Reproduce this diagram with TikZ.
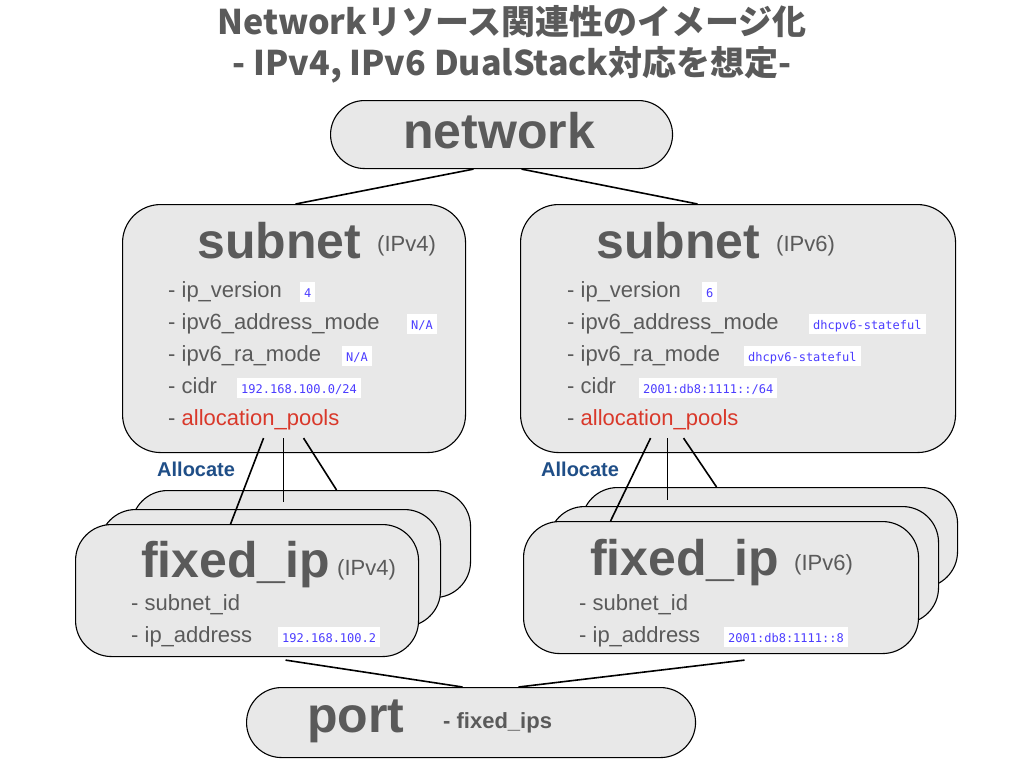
\documentclass[tikz,border=0pt]{standalone}
\usepackage{fontspec}
\setmainfont{Liberation Sans}
\setmonofont{DejaVu Sans Mono}
\newfontfamily\jpfont{Noto Sans CJK JP}
\usetikzlibrary{calc}
\definecolor{txt}{RGB}{90,90,90}
\definecolor{boxfill}{RGB}{232,232,232}
\definecolor{valblue}{RGB}{75,60,255}
\definecolor{alloc}{RGB}{31,78,135}
\definecolor{pool}{RGB}{217,56,42}
\tikzset{
  box/.style={draw=black, line width=1.1pt, fill=boxfill, rounded corners=#1, inner sep=0pt, anchor=north west},
  big/.style={font=\bfseries\fontsize{50}{50}\selectfont, text=txt, anchor=base west, inner sep=0pt},
  tag/.style={font=\fontsize{22}{22}\selectfont, text=txt, anchor=base west, inner sep=0pt},
  item/.style={font=\fontsize{22}{22}\selectfont, text=txt, anchor=base west, inner sep=0pt},
  val/.style={font=\ttfamily\fontsize{12}{12}\selectfont, text=valblue, fill=white, anchor=base west, inner xsep=4pt, inner ysep=2pt, text height=13pt, text depth=3pt},
  allocl/.style={font=\bfseries\fontsize{20}{20}\selectfont, text=alloc, anchor=base west, inner sep=0pt},
  ttl/.style={font=\jpfont\bfseries\fontsize{34}{34}\selectfont, text=txt, anchor=base, inner sep=0pt},
  link/.style={draw=black, line width=1.6pt}
}
\begin{document}
\begin{tikzpicture}[x=1pt,y=-1pt]
\useasboundingbox[fill=white] (0,0) rectangle (1024,768);
% title
\node[ttl] (t1) at (512,35) {Networkリソース関連性のイメージ化};
\node[ttl] (t2) at (512,75) {- IPv4, IPv6 DualStack対応を想定-};
% network
\node[box=34, minimum width=342pt, minimum height=68pt] (net) at (330,100) {};
\node[big] (netl) at (403,148) {network};
% subnet IPv4
\node[box=38, minimum width=343pt, minimum height=248pt] (s4) at (122,204) {};
\node[big] (s4l) at (197,258) {subnet};
\node[tag] (s4t) at (377,251) {(IPv4)};
\node[item] (s4a) at (168,297) {- ip\_version};
\node[item] (s4b) at (168,329) {- ipv6\_address\_mode};
\node[item] (s4c) at (168,361) {- ipv6\_ra\_mode};
\node[item] (s4d) at (168,393) {- cidr};
\node[item] (s4e) at (168,425) {- \textcolor{pool}{allocation\_pools}};
\node[val] (s4av) at (300,297) {4};
\node[val] (s4bv) at (407,329) {N/A};
\node[val] (s4cv) at (342,361) {N/A};
\node[val] (s4dv) at (237,393) {192.168.100.0/24};
% subnet IPv6
\node[box=38, minimum width=435pt, minimum height=248pt] (s6) at (520,204) {};
\node[big] (s6l) at (596,258) {subnet};
\node[tag] (s6t) at (776,251) {(IPv6)};
\node[item] (s6a) at (567,297) {- ip\_version};
\node[item] (s6b) at (567,329) {- ipv6\_address\_mode};
\node[item] (s6c) at (567,361) {- ipv6\_ra\_mode};
\node[item] (s6d) at (567,393) {- cidr};
\node[item] (s6e) at (567,425) {- \textcolor{pool}{allocation\_pools}};
\node[val] (s6av) at (702,297) {6};
\node[val] (s6bv) at (809,329) {dhcpv6-stateful};
\node[val] (s6cv) at (744,361) {dhcpv6-stateful};
\node[val] (s6dv) at (639,393) {2001:db8:1111::/64};
% allocate labels
\node[allocl] (al4) at (157,476) {Allocate};
\node[allocl] (al6) at (541,476) {Allocate};
% fixed_ip IPv4 stack
\node[box=36, minimum width=339pt, minimum height=107pt] (f4c) at (131,490) {};
\node[box=36, minimum width=341pt, minimum height=117pt] (f4b) at (99,509) {};
\node[box=36, minimum width=343pt, minimum height=132pt] (f4a) at (75,524) {};
\node[big] (f4l) at (141,577) {fixed\_ip};
\node[tag] (f4t) at (337,575) {(IPv4)};
\node[item] (f4x) at (131,610) {- subnet\_id};
\node[item] (f4y) at (131,642) {- ip\_address};
\node[val] (f4yv) at (278,642) {192.168.100.2};
% fixed_ip IPv6 stack
\node[box=36, minimum width=376pt, minimum height=100pt] (f6c) at (581,487) {};
\node[box=36, minimum width=390pt, minimum height=117pt] (f6b) at (548,506) {};
\node[box=36, minimum width=395pt, minimum height=132pt] (f6a) at (523,521) {};
\node[big] (f6l) at (590,575) {fixed\_ip};
\node[tag] (f6t) at (794,570) {(IPv6)};
\node[item] (f6x) at (579,610) {- subnet\_id};
\node[item] (f6y) at (579,642) {- ip\_address};
\node[val] (f6yv) at (724,642) {2001:db8:1111::8};
% port
\node[box=35, minimum width=449pt, minimum height=70pt] (port) at (246,687) {};
\node[big] (portl) at (307,732) {port};
\node[font=\bfseries\fontsize{22}{22}\selectfont, text=txt, anchor=base west, inner sep=0pt] (portf) at (443,728) {- fixed\_ips};
% connectors
\draw[link] ($(net.south)+(-28,0)$) -- ($(s4.north)+(1.5,0)$);
\draw[link] ($(net.south)+(20,0)$) -- ($(s6.north)+(-40.5,0)$);
\draw[link] ($(s4.south)+(-30.5,-15)$) -- ($(f4a.north)+(-16.5,0)$);
\draw[link] ($(s4.south)+(-10.5,-15)$) -- ($(f4c.north)+(-17.5,12)$);
\draw[link] ($(s4.south)+(9.5,-15)$) -- ($(f4c.north)+(35.5,0)$);
\draw[link] ($(s6.south)+(-87.5,-15)$) -- ($(f6a.north)+(-110.5,0)$);
\draw[link] ($(s6.south)+(-70.5,-15)$) -- ($(f6c.north)+(-102,13)$);
\draw[link] ($(s6.south)+(-54.5,-15)$) -- ($(f6c.north)+(-53,0)$);
\draw[link] ($(f4a.south)+(38.5,3)$) -- ($(port.north)+(-8.5,0)$);
\draw[link] ($(f6a.south)+(23.5,6)$) -- ($(port.north)+(47.5,0)$);
\end{tikzpicture}
\end{document}
